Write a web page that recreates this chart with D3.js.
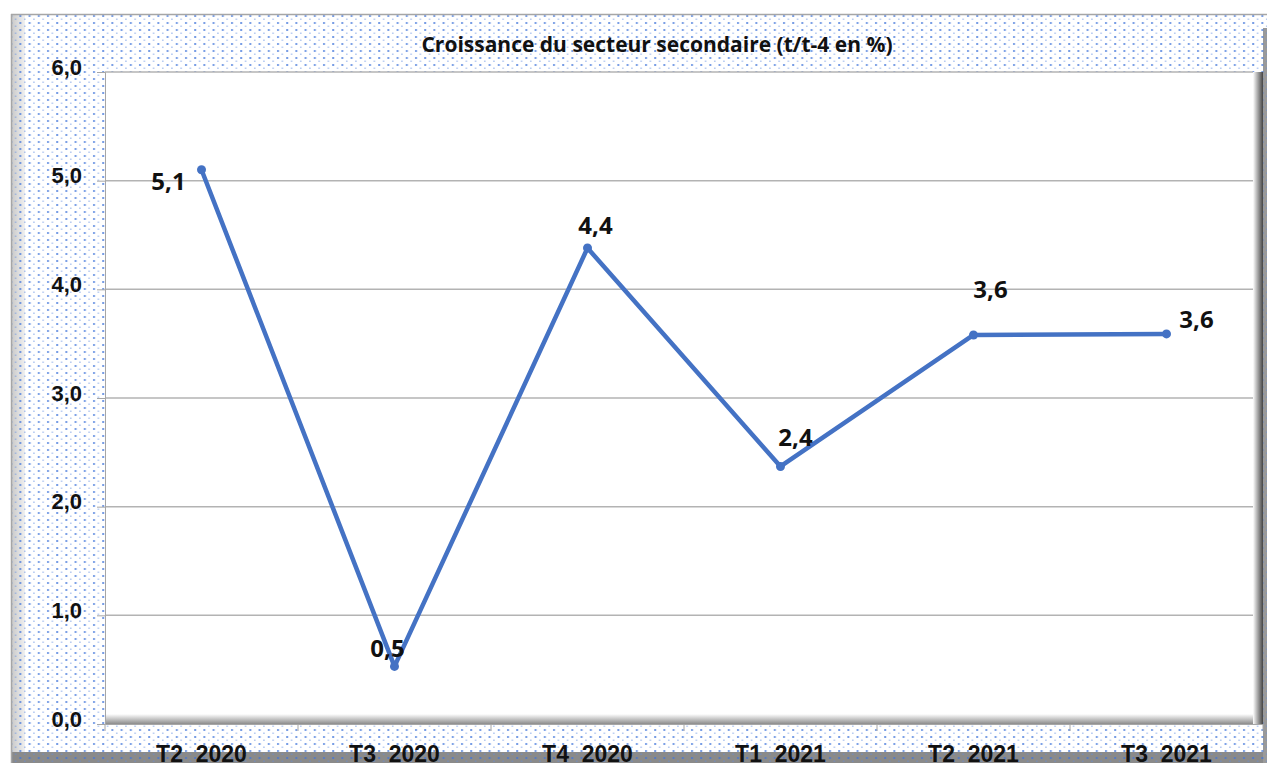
<!DOCTYPE html>
<html>
<head>
<meta charset="utf-8">
<script src="https://cdn.jsdelivr.net/npm/d3@7.9.0/dist/d3.min.js"></script>
<style>
  body { margin: 0; background: #fff; }
  svg { display: block; font-family: "Open Sans", "Liberation Sans", sans-serif; }
</style>
</head>
<body>
<svg id="chart" width="1271" height="763"></svg>
<script>
const categories = ["T2  2020", "T3  2020", "T4  2020", "T1  2021", "T2  2021", "T3  2021"];
const values = [5.1, 0.53, 4.38, 2.37, 3.58, 3.59];
const yTicks = [0, 1, 2, 3, 4, 5, 6];
// where each value label sits relative to its point
const labelPos = [
  { dx: -33, dy: 20 },
  { dx: -7, dy: -9 },
  { dx: 8, dy: -14 },
  { dx: 15, dy: -20 },
  { dx: 17, dy: -37 },
  { dx: 30, dy: -6 }
];

const svg = d3.select("#chart");
const margin = { top: 72, right: 8, bottom: 39, left: 105 };
const width = 1271 - margin.left - margin.right;
const height = 763 - margin.top - margin.bottom;

const defs = svg.append("defs");

// dotted blue background
const pat = defs.append("pattern")
  .attr("id", "dots")
  .attr("width", 9.2)
  .attr("height", 7)
  .attr("patternUnits", "userSpaceOnUse");
pat.append("rect").attr("x", 1).attr("y", 1).attr("width", 2).attr("height", 2).attr("fill", "#3f73da").attr("opacity", 0.7);
pat.append("rect").attr("x", 5.6).attr("y", 4.5).attr("width", 1.5).attr("height", 1.5).attr("fill", "#5f8ce0").attr("opacity", 0.5);

const gradB = defs.append("linearGradient").attr("id", "shadowB").attr("x1", 0).attr("y1", 0).attr("x2", 0).attr("y2", 1);
gradB.append("stop").attr("offset", 0).attr("stop-color", "#ffffff");
gradB.append("stop").attr("offset", 1).attr("stop-color", "#8c8c8c");
const gradR = defs.append("linearGradient").attr("id", "shadowR").attr("x1", 0).attr("y1", 0).attr("x2", 1).attr("y2", 0);
gradR.append("stop").attr("offset", 0).attr("stop-color", "#ffffff");
gradR.append("stop").attr("offset", 1).attr("stop-color", "#444");
const gradL = defs.append("linearGradient").attr("id", "bevelL").attr("x1", 0).attr("y1", 0).attr("x2", 1).attr("y2", 0);
gradL.append("stop").attr("offset", 0).attr("stop-color", "#c8c8c8");
gradL.append("stop").attr("offset", 1).attr("stop-color", "#f0f0f0");

// outer frame
svg.append("rect").attr("x", 11).attr("y", 14).attr("width", 1256).attr("height", 749).attr("fill", "#fff");
svg.append("rect").attr("x", 11).attr("y", 14).attr("width", 14).attr("height", 749).attr("fill", "url(#bevelL)");
svg.append("path").attr("d", "M11,752 L1267,752 L1267,763 L11,763 Z").attr("fill", "#8a8a8a");
svg.append("rect").attr("x", 1263).attr("y", 28).attr("width", 4).attr("height", 735).attr("fill", "#9a9a9a");
svg.append("rect").attr("x", 11).attr("y", 14).attr("width", 1256).attr("height", 749).attr("fill", "url(#dots)");
svg.append("line").attr("x1", 11).attr("x2", 1267).attr("y1", 14.5).attr("y2", 14.5).attr("stroke", "#a6a6a6").attr("stroke-width", 1.5);
svg.append("line").attr("x1", 11.5).attr("x2", 11.5).attr("y1", 14).attr("y2", 763).attr("stroke", "#a6a6a6").attr("stroke-width", 1.5);

const g = svg.append("g").attr("transform", `translate(${margin.left},${margin.top})`);

const x = d3.scaleBand().domain(categories).range([0, width]).padding(0);
const y = d3.scaleLinear().domain([0, 6]).range([height, 0]);

// plot area with 3d shadow
g.append("rect").attr("width", width).attr("height", height).attr("fill", "#fff");
g.append("rect").attr("x", 0).attr("y", height - 10).attr("width", width - 4).attr("height", 10).attr("fill", "url(#shadowB)");
g.append("rect").attr("x", width - 10).attr("y", 0).attr("width", 10).attr("height", height).attr("fill", "url(#shadowR)");

// gridlines
g.append("g")
  .selectAll("line")
  .data(yTicks.filter(d => d > 0))
  .join("line")
  .attr("x1", 0)
  .attr("x2", width - 10)
  .attr("y1", d => y(d))
  .attr("y2", d => y(d))
  .attr("stroke", "#b3b3b3")
  .attr("stroke-width", 1.5);

// axes
const yAxis = g.append("g")
  .call(d3.axisLeft(y).tickValues(yTicks).tickSize(8).tickPadding(15)
    .tickFormat(d => d3.format(".1f")(d).replace(".", ",")));
yAxis.select(".domain").attr("stroke", "#a6a6a6");
yAxis.selectAll(".tick line").attr("stroke", "#a6a6a6");
yAxis.selectAll("text")
  .attr("font-size", 22)
  .attr("font-weight", "bold")
  .attr("fill", "#111")
  .attr("dy", "0.1em");

const xAxis = g.append("g")
  .attr("transform", `translate(0,${height})`)
  .call(d3.axisBottom(x).tickSize(0).tickPadding(21));
xAxis.select(".domain").attr("stroke", "#a6a6a6");
xAxis.selectAll("text")
  .attr("font-size", 23)
  .attr("font-weight", "bold")
  .attr("fill", "#111")
  .attr("dy", "0.72em")
  .style("white-space", "pre");
// tick marks between categories
xAxis.append("g")
  .selectAll("line")
  .data(categories.concat(["end"]))
  .join("line")
  .attr("x1", (d, i) => i * x.bandwidth())
  .attr("x2", (d, i) => i * x.bandwidth())
  .attr("y1", 0)
  .attr("y2", 7)
  .attr("stroke", "#a6a6a6");

// title
svg.append("text")
  .attr("x", 657)
  .attr("y", 52)
  .attr("text-anchor", "middle")
  .attr("font-size", 21)
  .attr("font-weight", "bold")
  .attr("fill", "#111")
  .text("Croissance du secteur secondaire (t/t-4 en %)");

// series line
const line = d3.line()
  .x((d, i) => x(categories[i]) + x.bandwidth() / 2)
  .y(d => y(d));

g.append("path")
  .datum(values)
  .attr("fill", "none")
  .attr("stroke", "#4472c4")
  .attr("stroke-width", 4.5)
  .attr("stroke-linejoin", "round")
  .attr("d", line);

g.selectAll(".dot")
  .data(values)
  .join("circle")
  .attr("class", "dot")
  .attr("cx", (d, i) => x(categories[i]) + x.bandwidth() / 2)
  .attr("cy", d => y(d))
  .attr("r", 4.5)
  .attr("fill", "#4472c4");

g.selectAll(".val")
  .data(values)
  .join("text")
  .attr("class", "val")
  .attr("x", (d, i) => x(categories[i]) + x.bandwidth() / 2 + labelPos[i].dx)
  .attr("y", (d, i) => y(d) + labelPos[i].dy)
  .attr("text-anchor", "middle")
  .attr("font-size", 24)
  .attr("font-weight", "bold")
  .attr("fill", "#111")
  .text(d => d3.format(".1f")(d).replace(".", ","));
</script>
</body>
</html>
